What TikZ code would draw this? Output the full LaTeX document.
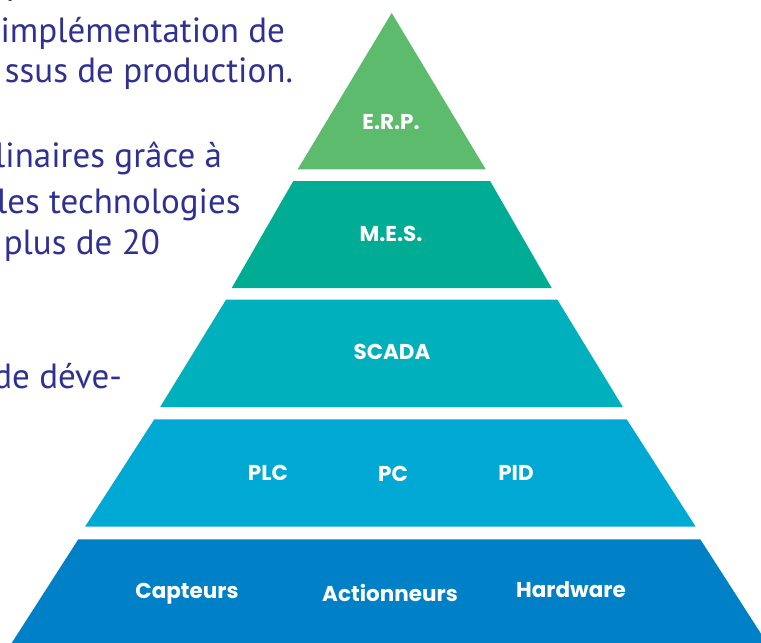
\documentclass[tikz,border=0pt]{standalone}
\usepackage{fontspec}
\setmainfont{PT Sans}
\newfontfamily\tierfont{Poppins}
\usetikzlibrary{positioning}
\definecolor{navy}{HTML}{2E3192}
\definecolor{erpgreen}{HTML}{5CBB6C}
\definecolor{mesteal}{HTML}{00AD94}
\definecolor{scadacyan}{HTML}{00B0BD}
\definecolor{plcblue}{HTML}{00A8D4}
\definecolor{fieldblue}{HTML}{0080C6}
\newcommand{\filledlayer}[5]{\fill[#1] (#2) -- (#3) -- (#4) -- (#5) -- cycle;}
\tikzstyle{every node}=[inner sep=0, outer sep=0]
\tikzstyle{tier}=[text=white, font=\tierfont\bfseries\fontsize{21.5}{21.5}\selectfont]
\tikzstyle{blurb}=[text=navy, font=\fontsize{35}{35}\selectfont, anchor=base east]

\begin{document}
\begin{tikzpicture}[x=1pt, y=-1pt]
\useasboundingbox (0,0) rectangle (761,643);
\clip (0,0) rectangle (761,643);

% text behind the pyramid
\node[blurb] (t0) at (25,-6) {p};
\node[blurb] (t1) at (285,42) {implémentation de};
\node[blurb] (t2) at (293,82) {ssus de production.};
\node[blurb] (t3) at (222,167) {plinaires grâce à};
\node[blurb] (t4) at (240.5,213) {les technologies};
\node[blurb] (t5) at (160,254) {plus de 20};
\node[blurb] (t6) at (122,388) {de déve-};

% pyramid corners
\coordinate (apex) at (391.7, 13);
\coordinate (a1) at (297.7, 169.3);
\coordinate (b1) at (485.7, 169.3);
\coordinate (a2) at (293.3, 181);
\coordinate (b2) at (490.1, 181);
\coordinate (c2) at (551.7, 288);
\coordinate (d2) at (231.7, 288);
\coordinate (a3) at (226, 299.7);
\coordinate (b3) at (557.4, 299.7);
\coordinate (c3) at (623, 407.2);
\coordinate (d3) at (160, 407.2);
\coordinate (a4) at (154.3, 419.3);
\coordinate (b4) at (626.7, 419.3);
\coordinate (c4) at (695.7, 526.7);
\coordinate (d4) at (85, 526.7);
\coordinate (a5) at (78.3, 539.3);
\coordinate (b5) at (700.3, 539.3);
\coordinate (c5) at (767, 643);
\coordinate (d5) at (11.7, 643);

\fill[erpgreen] (apex) -- (b1) -- (a1) -- cycle;
\filledlayer{mesteal}{a2}{b2}{c2}{d2}
\filledlayer{scadacyan}{a3}{b3}{c3}{d3}
\filledlayer{plcblue}{a4}{b4}{c4}{d4}
\filledlayer{fieldblue}{a5}{b5}{c5}{d5}

\node[tier] (erp) at (391, 122) {E.R.P.};
\node[tier] (mes) at (391, 234) {M.E.S.};
\node[tier] (scada) at (392, 352) {SCADA};

\node[tier] (pc) at (393, 474) {PC};
\node[tier] (plc) at (268, 473) {PLC};
\node[tier] (pid) at (516, 473) {PID};

\node[tier] (actionneurs) at (390, 593) {Actionneurs};
\node[tier] (capteurs) at (187, 594) {Capteurs};
\node[tier] (hardware) at (571, 590) {Hardware};
\end{tikzpicture}
\end{document}
